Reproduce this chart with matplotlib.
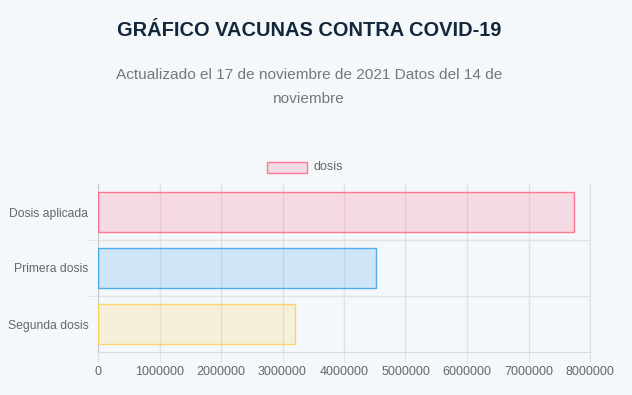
import matplotlib
matplotlib.use("Agg")
import matplotlib.pyplot as plt
from matplotlib.patches import Rectangle

categories = ["Dosis aplicada", "Primera dosis", "Segunda dosis"]
values = [7740000, 4520000, 3210000]
xticks = [0, 1000000, 2000000, 3000000, 4000000, 5000000, 6000000, 7000000, 8000000]
title = "GRÁFICO VACUNAS CONTRA COVID-19"
subtitle = "Actualizado el 17 de noviembre de 2021 Datos del 14 de\nnoviembre"
legend_label = "dosis"

fills = [(1.0, 0.388, 0.518, 0.2), (0.212, 0.635, 0.922, 0.2), (1.0, 0.808, 0.337, 0.2)]
edges = [(1.0, 0.388, 0.518, 0.85), (0.212, 0.635, 0.922, 0.85), (1.0, 0.808, 0.337, 0.85)]

bg = "#f4f8fb"
plt.rcParams["font.family"] = ["Liberation Sans", "DejaVu Sans"]

fig = plt.figure(figsize=(6.32, 3.95), dpi=100, facecolor=bg)
ax = fig.add_axes([98/632, 1-352/395, (590-98)/632, (352-184)/395])
ax.set_facecolor(bg)

ypos = list(range(len(categories)))
ax.barh(ypos, values, height=0.72, color=fills, edgecolor=edges, linewidth=1.0, zorder=3)
ax.set_ylim(len(categories)-0.5, -0.5)
ax.set_xlim(0, 8000000)
ax.set_xticks(xticks)
ax.set_xticklabels([str(v) for v in xticks])
ax.set_yticks(ypos)
ax.set_yticklabels(categories)
ax.set_yticks([0.5, 1.5], minor=True)

ax.grid(axis="x", color="#e0e3e6", linewidth=1, zorder=0)
ax.grid(axis="y", which="minor", color="#e0e3e6", linewidth=1, zorder=0)
ax.tick_params(axis="x", length=7, color="#e0e3e6", labelcolor="#666666", labelsize=9, pad=3)
ax.tick_params(axis="y", which="major", length=0, labelcolor="#666666", labelsize=8.7, pad=7)
ax.tick_params(axis="y", which="minor", length=8, color="#e0e3e6")
ax.spines["right"].set_color("#e0e3e6")
ax.spines["top"].set_visible(False)
ax.spines["left"].set_color("#c8ccd0")
ax.spines["bottom"].set_color("#d8dbde")

fig.text(309/632, 1-30/395, title, ha="center", va="center", fontsize=14.4,
         fontweight="bold", color="#13263a")
fig.text(309/632, 1-87/395, subtitle, ha="center", va="center", fontsize=11.1,
         color="#777777", linespacing=1.9)

# legend
lx0, ly0 = 267/632, 1-173/395
fig.patches.append(Rectangle((lx0, ly0), 40/632, 11/395, transform=fig.transFigure,
                             facecolor=fills[0], edgecolor=edges[0], linewidth=1.0))
fig.text(313/632, 1-167/395, legend_label, ha="left", va="center", fontsize=9, color="#666666")

fig.savefig("out.png", dpi=100, facecolor=bg)
